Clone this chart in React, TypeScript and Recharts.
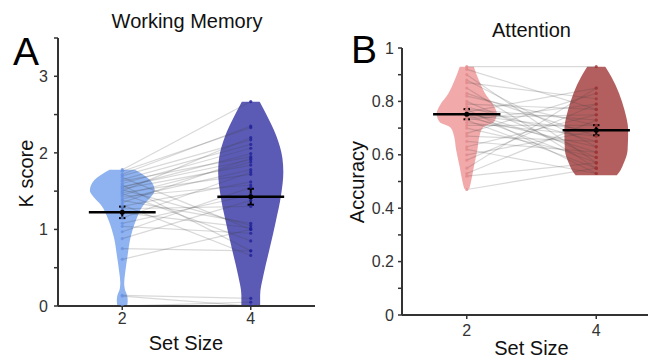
import React from 'react';
import { ComposedChart, Area, Line, XAxis, YAxis } from 'recharts';

const setSizes = [2, 4];

// Working memory: K score per participant, set size 2 and set size 4 (paired by index)
const wmSet2 = [1.78, 1.76, 1.72, 1.7, 1.68, 1.65, 1.63, 1.6, 1.58, 1.56, 1.55, 1.53, 1.52, 1.5, 1.48, 1.47, 1.45, 1.43, 1.4, 1.38, 1.35, 1.32, 1.3, 1.27, 1.22, 1.15, 1.08, 1.04, 0.97, 0.88, 0.75, 0.61, 0.14, 0.13, 0.0];
const wmSet4 = [2.67, 2.33, 2.35, 2.17, 1.0, 2.11, 1.95, 2.06, 0.72, 1.91, 1.99, 1.84, 1.05, 2.2, 1.72, 0.85, 1.88, 1.58, 1.78, 1.08, 1.93, 0.66, 1.62, 1.3, 1.02, 1.75, 1.45, 0.95, 1.55, 1.38, 0.72, 1.0, 0.1, 0.0, 0.05];
const wmMeans = [1.223, 1.427];
const wmErrors = [0.075, 0.104];

// violin outlines: K level and half width (in set-size units)
const wmViolin2Levels = [0, 0.07, 0.14, 0.22, 0.3, 0.43, 0.64, 0.9, 1.12, 1.32, 1.43, 1.51, 1.645, 1.78];
const wmViolin2Widths = [0.075, 0.085, 0.075, 0.04, 0.03, 0.045, 0.08, 0.131, 0.213, 0.331, 0.452, 0.504, 0.433, 0.197];
const wmViolin4Levels = [0, 0.14, 0.4, 0.75, 1.1, 1.45, 1.75, 1.93, 2.23, 2.49, 2.667];
const wmViolin4Widths = [0.146, 0.146, 0.197, 0.294, 0.389, 0.472, 0.507, 0.493, 0.394, 0.249, 0.139];

// Attention: accuracy per participant
const attSet2 = [0.93, 0.92, 0.9, 0.88, 0.87, 0.85, 0.83, 0.82, 0.8, 0.79, 0.78, 0.77, 0.77, 0.76, 0.76, 0.75, 0.75, 0.74, 0.74, 0.73, 0.73, 0.72, 0.71, 0.7, 0.68, 0.67, 0.65, 0.63, 0.62, 0.6, 0.58, 0.55, 0.53, 0.52, 0.47];
const attSet4 = [0.93, 0.77, 0.57, 0.63, 0.81, 0.55, 0.67, 0.71, 0.59, 0.77, 0.65, 0.53, 0.73, 0.61, 0.85, 0.69, 0.57, 0.75, 0.63, 0.79, 0.55, 0.67, 0.71, 0.59, 0.83, 0.65, 0.61, 0.75, 0.53, 0.69, 0.79, 0.85, 0.73, 0.57, 0.55];
const attMeans = [0.752, 0.692];
const attErrors = [0.019, 0.019];

const attViolin2Levels = [0.473, 0.504, 0.554, 0.617, 0.679, 0.704, 0.723, 0.755, 0.786, 0.83, 0.88, 0.93];
const attViolin2Widths = [0.039, 0.07, 0.109, 0.163, 0.206, 0.259, 0.419, 0.465, 0.414, 0.284, 0.186, 0.109];
const attViolin4Levels = [0.523, 0.542, 0.567, 0.617, 0.692, 0.767, 0.83, 0.892, 0.93];
const attViolin4Widths = [0.318, 0.375, 0.422, 0.484, 0.493, 0.437, 0.353, 0.233, 0.14];

const wmTicks = [0, 0.5, 1, 1.5, 2, 2.5, 3, 3.5];
const wmTickLabels = [0, 1, 2, 3];
const attTicks = [0, 0.1, 0.2, 0.3, 0.4, 0.5, 0.6, 0.7, 0.8, 0.9, 1];
const attTickLabels = [0, 0.2, 0.4, 0.6, 0.8, 1];

const FONT = '"Liberation Sans", Arial, Helvetica, sans-serif';
const AXIS = '#333333';
const MEAN_HALF = 0.52;
const CAP_HALF = 0.05;

const violinData = (center: number, levels: number[], widths: number[]) =>
  levels.map((k, i) => ({ k, x: [center - widths[i], center + widths[i]] }));

function Panel(props: any) {
  const { width, margin, domain, ticks, tickLabels, set2, set4, means, errors, violins, colors, dots, yTickMargin, xTickMargin, texts } = props;
  const pairs = set2.map((v: number, i: number) => [
    { k: v, x: setSizes[0] },
    { k: set4[i], x: setSizes[1] },
  ]);

  return (
    <ComposedChart layout="vertical" width={width} height={360} margin={margin} style={{ fontFamily: FONT }}>
      <XAxis
        type="number"
        domain={[1, 5]}
        ticks={setSizes}
        allowDataOverflow
        height={margin.xh}
        axisLine={{ stroke: AXIS, strokeWidth: 2 }}
        tickLine={{ stroke: AXIS, strokeWidth: 1.5 }}
        tickSize={4}
        tickMargin={xTickMargin}
        tick={{ fontSize: 16, fill: AXIS }}
      />
      <YAxis
        type="number"
        dataKey="k"
        reversed
        domain={domain}
        ticks={ticks}
        allowDataOverflow
        interval={0}
        width={margin.yw}
        axisLine={{ stroke: AXIS, strokeWidth: 2 }}
        tickLine={{ stroke: AXIS, strokeWidth: 1.5 }}
        tickSize={4}
        tickMargin={yTickMargin}
        tick={{ fontSize: 16, fill: AXIS }}
        tickFormatter={(v: number) => (tickLabels.includes(v) ? String(v) : '')}
      />
      {violins.map((v: any, i: number) => (
        <Area
          key={'v' + i}
          data={violinData(setSizes[i], v.levels, v.widths)}
          dataKey="x"
          type="monotone"
          fill={colors[i]}
          fillOpacity={1}
          stroke="none"
          activeDot={false}
          isAnimationActive={false}
        />
      ))}
      {pairs.map((p: any, i: number) => (
        <Line
          key={'p' + i}
          data={p}
          dataKey="x"
          stroke="#404040"
          strokeOpacity={0.2}
          strokeWidth={1.2}
          dot={false}
          activeDot={false}
          isAnimationActive={false}
        />
      ))}
      {[set2, set4].map((vals: number[], i: number) => (
        <Line
          key={'d' + i}
          data={vals.map((k) => ({ k, x: setSizes[i] }))}
          dataKey="x"
          stroke="none"
          dot={{ r: 1.6, fill: dots[i], stroke: 'none', fillOpacity: 0.8 }}
          activeDot={false}
          isAnimationActive={false}
        />
      ))}
      {means.map((m: number, i: number) => (
        <Line
          key={'m' + i}
          data={[
            { k: m, x: setSizes[i] - MEAN_HALF },
            { k: m, x: setSizes[i] + MEAN_HALF },
          ]}
          dataKey="x"
          stroke="#000"
          strokeWidth={2.5}
          dot={false}
          activeDot={false}
          isAnimationActive={false}
        />
      ))}
      {means.map((m: number, i: number) => (
        <Line
          key={'e' + i}
          data={[
            { k: m - errors[i], x: setSizes[i] },
            { k: m + errors[i], x: setSizes[i] },
          ]}
          dataKey="x"
          stroke="#000"
          strokeWidth={2}
          dot={false}
          activeDot={false}
          isAnimationActive={false}
        />
      ))}
      {means.flatMap((m: number, i: number) =>
        [m - errors[i], m + errors[i]].map((c, j) => (
          <Line
            key={'c' + i + j}
            data={[
              { k: c, x: setSizes[i] - CAP_HALF },
              { k: c, x: setSizes[i] + CAP_HALF },
            ]}
            dataKey="x"
            stroke="#000"
            strokeWidth={2}
            dot={false}
            activeDot={false}
            isAnimationActive={false}
          />
        ))
      )}
      {means.map((m: number, i: number) => (
        <Line
          key={'md' + i}
          data={[{ k: m, x: setSizes[i] }]}
          dataKey="x"
          stroke="none"
          dot={{ r: 2.5, fill: '#000', stroke: 'none' }}
          activeDot={false}
          isAnimationActive={false}
        />
      ))}
      <text x={texts.letter[0]} y={texts.letter[1]} fontSize={39} fill="#000" fontFamily={FONT}>{texts.letter[2]}</text>
      <text x={texts.title[0]} y={texts.title[1]} fontSize={20} fill="#111" textAnchor="middle" fontFamily={FONT}>{texts.title[2]}</text>
      <text x={texts.xLabel[0]} y={texts.xLabel[1]} fontSize={20} fill="#111" textAnchor="middle" fontFamily={FONT}>Set Size</text>
      <text
        x={texts.yLabel[0]}
        y={texts.yLabel[1]}
        fontSize={20}
        fill="#111"
        textAnchor="middle"
        fontFamily={FONT}
        transform={`rotate(-90, ${texts.yLabel[0]}, ${texts.yLabel[1]})`}
      >
        {texts.yLabel[2]}
      </text>
    </ComposedChart>
  );
}

export default function App() {
  return (
    <div style={{ position: 'relative', width: 648, height: 360, overflow: 'hidden', background: '#fff' }}>
      <style>{'body{margin:0}'}</style>
      <div style={{ position: 'absolute', left: 0, top: 0 }}>
        <Panel
          width={648}
          margin={{ top: 38, right: 333, bottom: 14, left: 18, xh: 40, yw: 40 }}
          domain={[0, 3.5]}
          ticks={wmTicks}
          tickLabels={wmTickLabels}
          set2={wmSet2}
          set4={wmSet4}
          means={wmMeans}
          errors={wmErrors}
          violins={[
            { levels: wmViolin2Levels, widths: wmViolin2Widths },
            { levels: wmViolin4Levels, widths: wmViolin4Widths },
          ]}
          colors={['#8fb2f0', '#5b5bb5']}
          dots={['#6a92e4', '#20209a']}
          yTickMargin={6}
          xTickMargin={3}
          texts={{
            letter: [13, 65, 'A'],
            title: [187, 28, 'Working Memory'],
            xLabel: [186, 350, 'Set Size'],
            yLabel: [32.5, 173.5, 'K score'],
          }}
        />
      </div>
      <div style={{ position: 'absolute', left: 0, top: 0 }}>
        <Panel
          width={661}
          margin={{ top: 48, right: 0, bottom: 15, left: 357, xh: 30, yw: 45 }}
          domain={[0, 1]}
          ticks={attTicks}
          tickLabels={attTickLabels}
          set2={attSet2}
          set4={attSet4}
          means={attMeans}
          errors={attErrors}
          violins={[
            { levels: attViolin2Levels, widths: attViolin2Widths },
            { levels: attViolin4Levels, widths: attViolin4Widths },
          ]}
          colors={['#f2a9aa', '#b45f5f']}
          dots={['#e48a8c', '#9c3434']}
          yTickMargin={4}
          xTickMargin={6}
          texts={{
            letter: [351, 63, 'B'],
            title: [531.5, 37, 'Attention'],
            xLabel: [531.5, 355, 'Set Size'],
            yLabel: [363.5, 182, 'Accuracy'],
          }}
        />
      </div>
    </div>
  );
}
